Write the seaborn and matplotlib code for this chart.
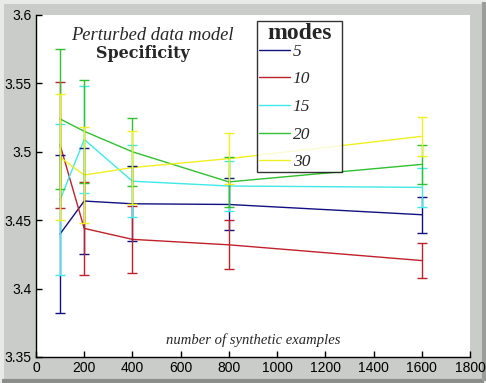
import matplotlib
matplotlib.use("Agg")
import matplotlib.pyplot as plt
import seaborn as sns
import pandas as pd
from matplotlib.patches import Rectangle

sns.set_style("white")

x_vals = [100, 200, 400, 800, 1600]
modes = ["5", "10", "15", "20", "30"]
mean_5 = [3.440, 3.464, 3.462, 3.4615, 3.454]
err_5 = [0.058, 0.039, 0.0275, 0.019, 0.0133]
mean_10 = [3.505, 3.444, 3.436, 3.432, 3.4205]
err_10 = [0.046, 0.034, 0.0244, 0.018, 0.0125]
mean_15 = [3.465, 3.509, 3.4785, 3.475, 3.474]
err_15 = [0.055, 0.039, 0.0265, 0.018, 0.014]
mean_20 = [3.524, 3.515, 3.500, 3.478, 3.4908]
err_20 = [0.051, 0.0375, 0.025, 0.018, 0.014]
mean_30 = [3.496, 3.483, 3.4885, 3.495, 3.5113]
err_30 = [0.046, 0.0354, 0.027, 0.0185, 0.0143]

means = [mean_5, mean_10, mean_15, mean_20, mean_30]
errs = [err_5, err_10, err_15, err_20, err_30]
colors = ["#101080", "#c0202a", "#40e8e8", "#30c030", "#f0f020"]

rows = []
for m, mv, ev in zip(modes, means, errs):
    for x, y, e in zip(x_vals, mv, ev):
        rows.append({"n": x, "spec": y, "err": e, "modes": m})
df = pd.DataFrame(rows)

fig = plt.figure(figsize=(4.86, 3.83), dpi=100)
fig.patch.set_facecolor("#c9ccc8")
# bevel frame
fig.patches.append(Rectangle((0, 0), 1, 1, transform=fig.transFigure, fill=False,
                             edgecolor="#e8eae8", linewidth=5, zorder=-1))
fig.patches.append(Rectangle((0.004, 0.004), 0.992, 0.0, transform=fig.transFigure,
                             fill=False, edgecolor="#8a8e8a", linewidth=3, zorder=-1))
fig.patches.append(Rectangle((0.996, 0.004), 0.0, 0.992, transform=fig.transFigure,
                             fill=False, edgecolor="#9a9e9a", linewidth=3, zorder=-1))

ax = fig.add_axes([36 / 486, 1 - 357 / 383, (470 - 36) / 486, (357 - 15) / 383])
ax.set_facecolor("white")

palette = dict(zip(modes, colors))
sns.lineplot(data=df, x="n", y="spec", hue="modes", palette=palette, ax=ax,
             linewidth=1.0, legend=True, estimator=None)
for m, mv, ev, c in zip(modes, means, errs, colors):
    ax.errorbar(x_vals, mv, yerr=ev, fmt="none", ecolor=c, elinewidth=1.0,
                capsize=3.5, capthick=1.0)

ax.set_xlim(0, 1800)
ax.set_ylim(3.35, 3.6)
ax.set_xticks(range(0, 1801, 200))
ax.set_yticks([3.35, 3.4, 3.45, 3.5, 3.55, 3.6])
ax.set_yticklabels(["3.35", "3.4", "3.45", "3.5", "3.55", "3.6"])
ax.tick_params(direction="in", length=4, width=1, labelsize=10, colors="black",
               bottom=True, left=True, pad=3)
for lab in ax.get_xticklabels() + ax.get_yticklabels():
    lab.set_family("Liberation Sans")
for s in ["top", "right"]:
    ax.spines[s].set_visible(False)
for s in ["left", "bottom"]:
    ax.spines[s].set_color("black")
    ax.spines[s].set_linewidth(1.0)
ax.set_xlabel("")
ax.set_ylabel("")

fig.text(152 / 486, 1 - 35 / 383, "Perturbed data model", family="Liberation Serif",
         style="italic", fontsize=13.3, ha="center", va="center")
fig.text(143 / 486, 1 - 54 / 383, "Specificity", family="DejaVu Serif",
         weight="bold", fontsize=11.5, ha="center", va="center")
fig.text(253 / 486, 1 - 340 / 383, "number of synthetic examples",
         family="Liberation Serif", style="italic", fontsize=10.5, ha="center", va="center")

handles, labels = ax.get_legend_handles_labels()
leg = ax.legend(handles, labels, title="modes", loc="upper left",
                bbox_to_anchor=(257 / 486, 1 - 21 / 383, 85 / 486, 0),
                bbox_transform=fig.transFigure, mode="expand",
                borderaxespad=0, frameon=True, fancybox=False, edgecolor="black",
                handlelength=1.8, handletextpad=0.15, labelspacing=0.66,
                borderpad=0.1, prop={"family": "Liberation Serif", "style": "italic", "size": 12.5})
leg.get_frame().set_linewidth(1.0)
leg.get_title().set_fontfamily("Liberation Serif")
leg.get_title().set_fontweight("bold")
leg.get_title().set_fontsize(17)
leg._legend_box.align = "center"
leg._legend_box.sep = 0

fig.savefig("out.png", dpi=100, facecolor=fig.get_facecolor())
